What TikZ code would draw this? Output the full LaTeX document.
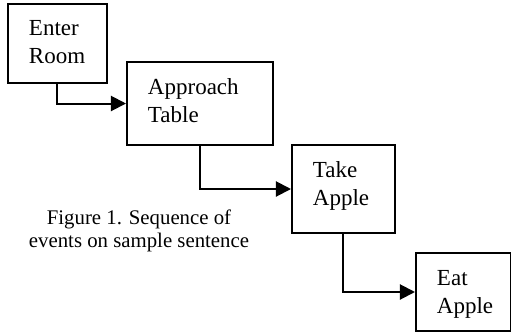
\documentclass[tikz,border=0pt]{standalone}
\usepackage{fontspec}
\setmainfont{Liberation Serif}
\usetikzlibrary{arrows.meta}

\begin{document}
\begin{tikzpicture}[
  x=1pt, y=-1pt,
  event/.style={draw, line width=1pt, anchor=north west, align=left,
    inner xsep=10.5pt, inner ysep=0pt, text height=16pt,
    font=\fontsize{11.5pt}{14pt}\selectfont},
  step arrow/.style={line width=1pt, -{Triangle[length=7.5pt, width=7.5pt]}},
  caption/.style={align=center, anchor=base, font=\fontsize{10.4pt}{11.5pt}\selectfont}
]
\useasboundingbox (0,0) rectangle (255.5,167);
% the four events, stepping down to the right
\node[event, text width=28.5pt, text depth=23.8pt] (enter) at (3.5,1.4) {Enter\\Room};
\node[event, text width=52pt, text depth=25.5pt] (approach) at (63,30.5) {Approach\\Table};
\node[event, text width=30.5pt, text depth=28pt] (take) at (145.5,72) {Take\\Apple};
\node[event, text width=26.5pt, text depth=23pt] (eat) at (207.5,126) {Eat\\Apple};
% elbow connectors
\draw[step arrow] (enter.south) |- (approach.west);
\draw[step arrow] (approach.south) |- (take.west);
\draw[step arrow] (take.south) |- (eat.west);
\node[caption] (cap) at (69.5,123.5) {Figure 1. Sequence of\\events on sample sentence};
\end{tikzpicture}
\end{document}
